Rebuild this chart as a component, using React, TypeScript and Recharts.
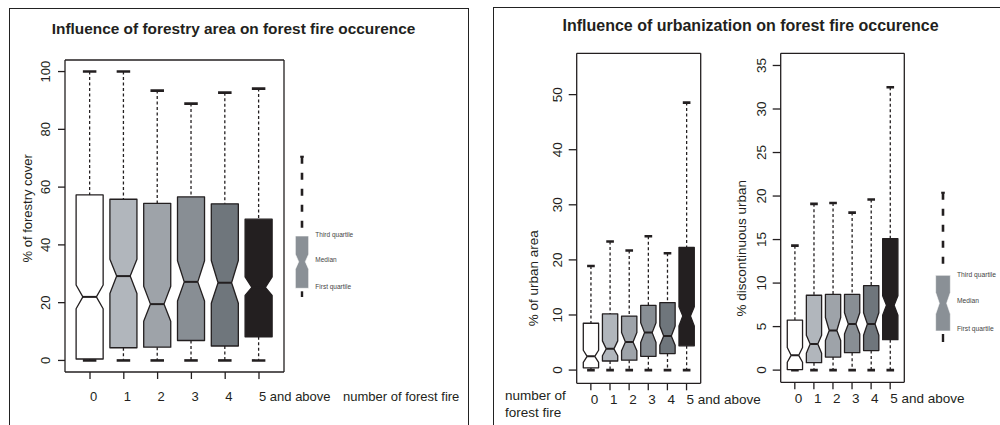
import React from 'react';
import { BarChart, Bar, XAxis, YAxis, Legend } from 'recharts';

const fireCounts = ['0', '1', '2', '3', '4', '5 and above'];
const boxFills = ['#ffffff', '#b1b6bc', '#9ea3a9', '#888e94', '#6f767c', '#231f20'];

// % of forestry cover
const forestLow = [0, 0, 0, 0, 0, 0];
const forestQ1 = [0.5, 4.4, 4.6, 6.9, 5.0, 8.2];
const forestNotchLo = [17.9, 23.2, 13.6, 20.6, 19.8, 22.5];
const forestMedian = [22.0, 29.2, 19.5, 27.2, 26.9, 25.3];
const forestNotchHi = [26.1, 35.0, 25.7, 34.5, 34.6, 28.9];
const forestQ3 = [57.3, 55.8, 54.4, 56.6, 54.2, 48.9];
const forestHigh = [100, 100, 93.4, 88.9, 92.7, 94.1];
const forestTicks = [0, 20, 40, 60, 80, 100];

// % of urban area
const urbanLow = [0, 0, 0, 0, 0, 0];
const urbanQ1 = [0.4, 1.65, 1.8, 2.5, 3.0, 4.4];
const urbanNotchLo = [1.4, 2.6, 3.5, 5.0, 4.5, 8.0];
const urbanMedian = [2.5, 3.85, 5.1, 6.8, 6.2, 9.8];
const urbanNotchHi = [3.6, 5.3, 6.8, 8.6, 8.0, 11.5];
const urbanQ3 = [8.5, 10.2, 9.8, 11.75, 12.25, 22.25];
const urbanHigh = [18.9, 23.35, 21.7, 24.3, 21.2, 48.55];
const urbanTicks = [0, 10, 20, 30, 40, 50];

// % discontinuous urban
const discLow = [0, 0, 0, 0, 0, 0];
const discQ1 = [0.06, 0.85, 1.5, 2.0, 2.25, 3.5];
const discNotchLo = [0.9, 1.95, 3.4, 4.15, 4.0, 6.3];
const discMedian = [1.7, 3.0, 4.55, 5.3, 5.3, 7.45];
const discNotchHi = [2.6, 4.0, 6.05, 6.6, 6.6, 8.55];
const discQ3 = [5.75, 8.6, 8.7, 8.7, 9.7, 15.1];
const discHigh = [14.3, 19.1, 19.2, 18.1, 19.6, 32.5];
const discTicks = [0, 5, 10, 15, 20, 25, 30, 35];

const legendLabels = ['Third quartile', 'Median', 'First quartile'];

const FONT = '"Liberation Sans", Arial, Helvetica, sans-serif';
const INK = '#231f20';
const H = 425;

type Row = {
  name: string;
  range: [number, number];
  q1: number;
  notchLo: number;
  median: number;
  notchHi: number;
  q3: number;
  fill: string;
};

function buildRows(low: number[], q1: number[], nlo: number[], med: number[], nhi: number[], q3: number[], high: number[]): Row[] {
  return fireCounts.map((name, i) => ({
    name,
    range: [low[i], high[i]],
    q1: q1[i],
    notchLo: nlo[i],
    median: med[i],
    notchHi: nhi[i],
    q3: q3[i],
    fill: boxFills[i],
  }));
}

const forestRows = buildRows(forestLow, forestQ1, forestNotchLo, forestMedian, forestNotchHi, forestQ3, forestHigh);
const urbanRows = buildRows(urbanLow, urbanQ1, urbanNotchLo, urbanMedian, urbanNotchHi, urbanQ3, urbanHigh);
const discRows = buildRows(discLow, discQ1, discNotchLo, discMedian, discNotchHi, discQ3, discHigh);

// the bar spans low..high whisker, everything else is placed on the same scale
function NotchedBox(props: any) {
  const { x, y, width, height, payload } = props;
  const [lo, hi] = payload.range;
  const top = Math.min(y, y + height);
  const k = Math.abs(height) / (hi - lo);
  const py = (v: number) => top + (hi - v) * k;
  const cx = x + width / 2;
  const pinch = width / 4;
  const cap = width / 4;
  const yHi = py(hi);
  const yLo = py(lo);
  const yQ3 = py(payload.q3);
  const yQ1 = py(payload.q1);
  const yNh = py(payload.notchHi);
  const yNl = py(payload.notchLo);
  const yMed = py(payload.median);
  const pts = [
    [x, yQ3], [x + width, yQ3], [x + width, yNh], [cx + pinch, yMed], [x + width, yNl],
    [x + width, yQ1], [x, yQ1], [x, yNl], [cx - pinch, yMed], [x, yNh],
  ].map((p) => p.join(',')).join(' ');
  return (
    <g>
      <line x1={cx} x2={cx} y1={yHi} y2={yQ3} stroke={INK} strokeWidth={1.3} strokeDasharray="3 2.5" />
      <line x1={cx} x2={cx} y1={yQ1} y2={yLo} stroke={INK} strokeWidth={1.3} strokeDasharray="3 2.5" />
      <line x1={cx - cap} x2={cx + cap} y1={yHi} y2={yHi} stroke={INK} strokeWidth={2.6} />
      <line x1={cx - cap} x2={cx + cap} y1={yLo} y2={yLo} stroke={INK} strokeWidth={2.6} />
      <polygon points={pts} fill={payload.fill} stroke={INK} strokeWidth={1.3} strokeLinejoin="round" />
      <line x1={cx - pinch} x2={cx + pinch} y1={yMed} y2={yMed} stroke={INK} strokeWidth={2} />
    </g>
  );
}

// rotated tick label, as R draws them on the y axis
function renderYTick(fontSize: number) {
  return (props: any) => {
    const { x, y, payload } = props;
    return (
      <g transform={`translate(${x},${y}) rotate(-90)`}>
        <text x={0} y={0} textAnchor="middle" fontSize={fontSize} fontFamily={FONT} fill={INK}>
          {payload.value}
        </text>
      </g>
    );
  };
}

function renderXTick(fontSize: number) {
  return (props: any) => {
    const { x, y, payload } = props;
    return (
      <text x={x} y={y} dy="0.71em" textAnchor="start" fontSize={fontSize} fontFamily={FONT} fill={INK}>
        {payload.value}
      </text>
    );
  };
}

function YTitle(props: any) {
  const { cx, cy, text, fontSize } = props;
  return (
    <g transform={`translate(${cx},${cy}) rotate(-90)`}>
      <text x={0} y={0} textAnchor="middle" fontSize={fontSize} fontFamily={FONT} fill={INK}>
        {text}
      </text>
    </g>
  );
}

type GlyphSpec = {
  capTop: number;
  boxTop: number;
  pinchY: number;
  notchH: number;
  boxBottom: number;
  lowEnd: number;
  half: number;
  labelX: number;
  labelYs: number[];
  labelSize: number;
};

function LegendGlyph({ g }: { g: GlyphSpec }) {
  const cx = 10;
  const pts = [
    [cx - g.half, g.boxTop], [cx + g.half, g.boxTop], [cx + g.half, g.pinchY - g.notchH], [cx + g.half / 2, g.pinchY],
    [cx + g.half, g.pinchY + g.notchH], [cx + g.half, g.boxBottom], [cx - g.half, g.boxBottom],
    [cx - g.half, g.pinchY + g.notchH], [cx - g.half / 2, g.pinchY], [cx - g.half, g.pinchY - g.notchH],
  ].map((p) => p.join(',')).join(' ');
  return (
    <svg width={90} height={160} style={{ display: 'block', overflow: 'visible' }}>
      <line x1={cx - 1.8} x2={cx + 1.8} y1={g.capTop} y2={g.capTop} stroke={INK} strokeWidth={2} />
      <line x1={cx} x2={cx} y1={g.capTop} y2={g.boxTop - 3} stroke={INK} strokeWidth={2.6} strokeDasharray="7 9" />
      <polygon points={pts} fill="#8a9096" stroke="#ffffff" strokeWidth={0.6} />
      <line x1={cx} x2={cx} y1={g.boxBottom + 3} y2={g.lowEnd} stroke={INK} strokeWidth={2.4} />
      {legendLabels.map((t, i) => (
        <text key={t} x={g.labelX} y={g.labelYs[i]} dominantBaseline="central" fontSize={g.labelSize} fontFamily={FONT} fill="#444">
          {t}
        </text>
      ))}
    </svg>
  );
}

type PanelProps = {
  rows: Row[];
  left: number;
  width: number;
  plot: { l: number; r: number; t: number; b: number };
  domain: [number, number];
  ticks: number[];
  fontSize: number;
  yTick: [number, number];
  xTick: [number, number];
  yTitle: string;
  yTitleAt: [number, number];
  glyph?: GlyphSpec;
  glyphAt?: [number, number];
};

function BoxPanel(p: PanelProps) {
  const band = (p.plot.r - p.plot.l) / 6.48;
  const pad = band * 0.24;
  const margin = {
    top: p.plot.t - 1,
    right: p.width - p.plot.r - 1,
    bottom: H - p.plot.b - 30,
    left: p.plot.l - 40,
  };
  const frame = { stroke: INK, strokeWidth: 1.3 };
  return (
    <div style={{ position: 'absolute', left: p.left, top: 0 }}>
      <BarChart width={p.width} height={H} data={p.rows} margin={margin} barSize={band * 0.8}>
        <XAxis
          dataKey="name"
          height={30}
          interval={0}
          padding={{ left: pad, right: pad }}
          tickSize={p.xTick[0]}
          tickMargin={p.xTick[1]}
          tick={renderXTick(p.fontSize)}
          axisLine={frame}
          tickLine={frame}
        />
        <XAxis xAxisId="frame" orientation="top" dataKey="name" height={1} tick={false} tickLine={false} axisLine={frame} />
        <YAxis
          type="number"
          domain={p.domain}
          ticks={p.ticks}
          interval={0}
          allowDataOverflow
          width={40}
          tickSize={p.yTick[0]}
          tickMargin={p.yTick[1]}
          tick={renderYTick(p.fontSize)}
          axisLine={frame}
          tickLine={frame}
          label={<YTitle cx={p.yTitleAt[0]} cy={p.yTitleAt[1]} text={p.yTitle} fontSize={p.fontSize} />}
        />
        <YAxis yAxisId="frame" orientation="right" type="number" domain={[0, 1]} width={1} tick={false} tickLine={false} axisLine={frame} />
        {p.glyph && p.glyphAt && (
          <Legend
            layout="vertical"
            align="center"
            verticalAlign="middle"
            wrapperStyle={{ left: p.glyphAt[0], top: p.glyphAt[1], width: 90, height: 160 }}
            content={() => <LegendGlyph g={p.glyph as GlyphSpec} />}
          />
        )}
        <Bar dataKey="range" isAnimationActive={false} shape={<NotchedBox />} />
      </BarChart>
    </div>
  );
}

const textStyle: React.CSSProperties = { position: 'absolute', fontFamily: FONT, color: INK, whiteSpace: 'nowrap' };

export default function App() {
  return (
    <div style={{ position: 'absolute', left: 0, top: 0, width: 1000, height: H, overflow: 'hidden', background: '#fff' }}>
      <div style={{ position: 'absolute', left: 9, top: 8, width: 458, height: 440, border: '1px solid #222' }} />
      <div style={{ position: 'absolute', left: 493, top: 7, width: 540, height: 440, border: '1px solid #222' }} />

      <div style={{ ...textStyle, left: 0, width: 467, top: 20, lineHeight: '18px', fontSize: 15.4, fontWeight: 'bold', textAlign: 'center' }}>
        Influence of forestry area on forest fire occurence
      </div>
      <div style={{ ...textStyle, left: 500, width: 501, top: 17, lineHeight: '18px', fontSize: 16, fontWeight: 'bold', textAlign: 'center' }}>
        Influence of urbanization on forest fire occurence
      </div>

      <BoxPanel
        rows={forestRows}
        left={0}
        width={480}
        plot={{ l: 65, r: 284, t: 60, b: 372 }}
        domain={[-4, 104]}
        ticks={forestTicks}
        fontSize={13}
        yTick={[7, 8.3]}
        xTick={[7, 13]}
        yTitle="% of forestry cover"
        yTitleAt={[32.2, 208.3]}
        glyph={{ capTop: 2.7, boxTop: 82, pinchY: 107.7, notchH: 7.5, boxBottom: 134.3, lowEnd: 143, half: 6.65, labelX: 23.3, labelYs: [80.7, 105.7, 132.7], labelSize: 6.5 }}
        glyphAt={[291.7, 154]}
      />
      <BoxPanel
        rows={urbanRows}
        left={480}
        width={300}
        plot={{ l: 96.7, r: 220.7, t: 53.3, b: 383.3 }}
        domain={[-2.4, 57.5]}
        ticks={urbanTicks}
        fontSize={13.5}
        yTick={[8, 6.7]}
        xTick={[7, 4]}
        yTitle="% of urban area"
        yTitleAt={[57.8, 278.3]}
      />
      <BoxPanel
        rows={discRows}
        left={720}
        width={280}
        plot={{ l: 60.7, r: 184.3, t: 53.3, b: 382.3 }}
        domain={[-1.4, 36.4]}
        ticks={discTicks}
        fontSize={13.5}
        yTick={[8, 6.5]}
        xTick={[7, 4]}
        yTitle="% discontinuous urban"
        yTitleAt={[26.2, 248.3]}
        glyph={{ capTop: 2.7, boxTop: 85.3, pinchY: 113.3, notchH: 10.8, boxBottom: 141, lowEnd: 152, half: 7.35, labelX: 24, labelYs: [84, 110, 138.3], labelSize: 6.7 }}
        glyphAt={[213.3, 190]}
      />

      <div style={{ ...textStyle, left: 343, top: 389, lineHeight: '16px', fontSize: 13 }}>number of forest fire</div>
      <div style={{ ...textStyle, left: 505, top: 388.4, lineHeight: '16.6px', fontSize: 13.5 }}>
        number of
        <br />
        forest fire
      </div>
    </div>
  );
}
